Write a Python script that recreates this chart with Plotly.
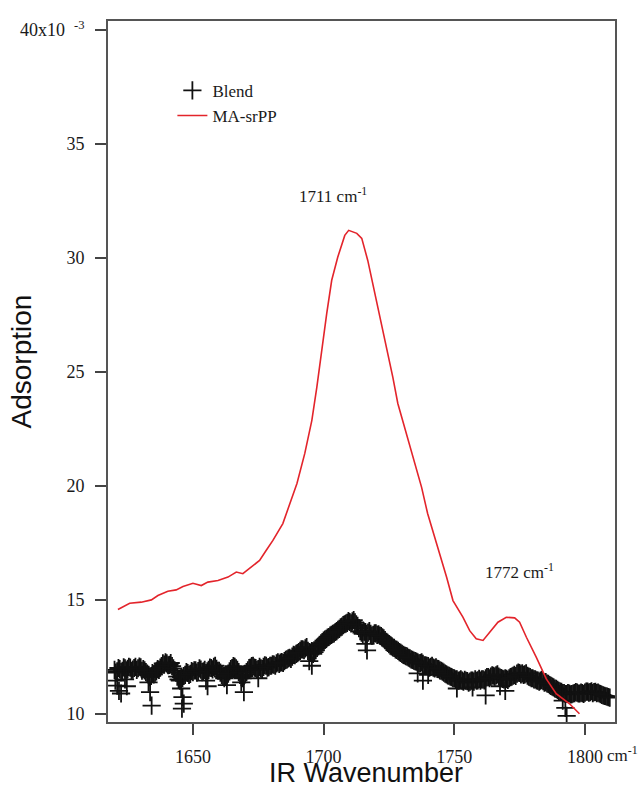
import plotly.graph_objects as go

# ---------------- data ----------------
# MA-srPP spectrum (wavenumber, absorbance x 1e-3)
srpp_x = [1621.3, 1625.8, 1630.2, 1634.1, 1636.6, 1640.4, 1643.6, 1646.2, 1650.0, 1653.2,
          1655.7, 1659.6, 1663.4, 1666.6, 1669.1, 1673.0, 1675.5, 1678.0, 1680.6, 1684.4,
          1689.8, 1692.8, 1695.5, 1697.4, 1699.3, 1701.2, 1703.1, 1705.4, 1708.1, 1709.6,
          1712.7, 1714.6, 1716.9, 1719.6, 1722.2, 1724.2, 1726.5, 1728.4, 1731.0, 1734.1,
          1737.5, 1739.8, 1743.3, 1747.1, 1749.5, 1753.3, 1755.9, 1758.4, 1761.0, 1763.5,
          1766.7, 1769.9, 1773.1, 1775.0, 1777.6, 1781.4, 1785.2, 1789.0, 1794.1, 1797.9]
srpp_y = [14.57, 14.84, 14.89, 14.99, 15.18, 15.37, 15.43, 15.58, 15.72, 15.62,
          15.77, 15.84, 15.99, 16.21, 16.14, 16.50, 16.72, 17.16, 17.60, 18.34,
          20.10, 21.42, 22.87, 24.32, 26.07, 27.57, 29.02, 30.03, 30.99, 31.21,
          31.08, 30.86, 29.89, 28.45, 27.13, 25.94, 24.76, 23.61, 22.56, 21.24,
          19.93, 18.78, 17.47, 15.97, 14.96, 14.23, 13.64, 13.28, 13.21, 13.57,
          14.01, 14.23, 14.20, 14.01, 13.35, 12.47, 11.52, 10.87, 10.43, 9.99]

# Blend spectrum, readings on whole wavenumbers (1620 ... 1809)
blend_x = [1620, 1621, 1622, 1623, 1624, 1625, 1626, 1627, 1628, 1629,
           1630, 1631, 1632, 1633, 1634, 1635, 1636, 1637, 1638, 1639,
           1640, 1641, 1642, 1643, 1644, 1645, 1646, 1647, 1648, 1649,
           1650, 1651, 1652, 1653, 1654, 1655, 1656, 1657, 1658, 1659,
           1660, 1661, 1662, 1663, 1664, 1665, 1666, 1667, 1668, 1669,
           1670, 1671, 1672, 1673, 1674, 1675, 1676, 1677, 1678, 1679,
           1680, 1681, 1682, 1683, 1684, 1685, 1686, 1687, 1688, 1689,
           1690, 1691, 1692, 1693, 1694, 1695, 1696, 1697, 1698, 1699,
           1700, 1701, 1702, 1703, 1704, 1705, 1706, 1707, 1708, 1709,
           1710, 1711, 1712, 1713, 1714, 1715, 1716, 1717, 1718, 1719,
           1720, 1721, 1722, 1723, 1724, 1725, 1726, 1727, 1728, 1729,
           1730, 1731, 1732, 1733, 1734, 1735, 1736, 1737, 1738, 1739,
           1740, 1741, 1742, 1743, 1744, 1745, 1746, 1747, 1748, 1749,
           1750, 1751, 1752, 1753, 1754, 1755, 1756, 1757, 1758, 1759,
           1760, 1761, 1762, 1763, 1764, 1765, 1766, 1767, 1768, 1769,
           1770, 1771, 1772, 1773, 1774, 1775, 1776, 1777, 1778, 1779,
           1780, 1781, 1782, 1783, 1784, 1785, 1786, 1787, 1788, 1789,
           1790, 1791, 1792, 1793, 1794, 1795, 1796, 1797, 1798, 1799,
           1800, 1801, 1802, 1803, 1804, 1805, 1806, 1807, 1808, 1809]
blend_y = [11.92, 11.85, 11.95, 11.88, 11.98, 11.96, 12.02, 11.93, 12.05, 11.99,
           12.03, 11.95, 11.82, 11.70, 11.65, 11.72, 11.85, 11.92, 12.08, 12.15,
           12.20, 12.14, 12.08, 11.90, 11.62, 11.48, 11.55, 11.70, 11.78, 11.74,
           11.82, 11.90, 11.86, 11.93, 11.85, 11.78, 11.92, 12.00, 12.05, 11.96,
           11.88, 11.70, 11.55, 11.62, 11.85, 12.00, 12.05, 11.92, 11.70, 11.55,
           11.72, 11.90, 12.02, 12.10, 12.00, 11.95, 11.98, 12.05, 12.10, 12.04,
           12.10, 12.15, 12.20, 12.18, 12.26, 12.30, 12.38, 12.45, 12.50, 12.56,
           12.65, 12.75, 12.82, 12.86, 12.75, 12.68, 12.62, 12.78, 12.95, 13.08,
           13.20, 13.28, 13.36, 13.45, 13.52, 13.62, 13.72, 13.82, 13.92, 13.98,
           14.02, 14.05, 14.00, 13.85, 13.62, 13.50, 13.58, 13.55, 13.50, 13.45,
           13.52, 13.48, 13.40, 13.30, 13.15, 13.05, 12.95, 12.88, 12.80, 12.70,
           12.62, 12.55, 12.50, 12.42, 12.36, 12.30, 12.25, 12.22, 12.18, 12.12,
           12.08, 12.05, 12.02, 12.03, 11.95, 11.88, 11.80, 11.72, 11.66, 11.60,
           11.55, 11.50, 11.46, 11.45, 11.48, 11.42, 11.40, 11.45, 11.50, 11.46,
           11.45, 11.50, 11.55, 11.60, 11.62, 11.66, 11.68, 11.62, 11.56, 11.50,
           11.52, 11.55, 11.62, 11.70, 11.75, 11.78, 11.76, 11.72, 11.66, 11.60,
           11.55, 11.50, 11.45, 11.45, 11.42, 11.38, 11.30, 11.22, 11.15, 11.08,
           11.00, 10.95, 10.90, 10.86, 10.88, 10.85, 10.90, 10.92, 10.88, 10.90,
           10.92, 10.96, 10.94, 10.90, 10.95, 10.92, 10.85, 10.80, 10.76, 10.72]

# Blend spectrum, readings on half wavenumbers (1620.5 ... 1809.5)
blend_half_x = [1620.5, 1621.5, 1622.5, 1623.5, 1624.5, 1625.5, 1626.5, 1627.5, 1628.5, 1629.5,
                1630.5, 1631.5, 1632.5, 1633.5, 1634.5, 1635.5, 1636.5, 1637.5, 1638.5, 1639.5,
                1640.5, 1641.5, 1642.5, 1643.5, 1644.5, 1645.5, 1646.5, 1647.5, 1648.5, 1649.5,
                1650.5, 1651.5, 1652.5, 1653.5, 1654.5, 1655.5, 1656.5, 1657.5, 1658.5, 1659.5,
                1660.5, 1661.5, 1662.5, 1663.5, 1664.5, 1665.5, 1666.5, 1667.5, 1668.5, 1669.5,
                1670.5, 1671.5, 1672.5, 1673.5, 1674.5, 1675.5, 1676.5, 1677.5, 1678.5, 1679.5,
                1680.5, 1681.5, 1682.5, 1683.5, 1684.5, 1685.5, 1686.5, 1687.5, 1688.5, 1689.5,
                1690.5, 1691.5, 1692.5, 1693.5, 1694.5, 1695.5, 1696.5, 1697.5, 1698.5, 1699.5,
                1700.5, 1701.5, 1702.5, 1703.5, 1704.5, 1705.5, 1706.5, 1707.5, 1708.5, 1709.5,
                1710.5, 1711.5, 1712.5, 1713.5, 1714.5, 1715.5, 1716.5, 1717.5, 1718.5, 1719.5,
                1720.5, 1721.5, 1722.5, 1723.5, 1724.5, 1725.5, 1726.5, 1727.5, 1728.5, 1729.5,
                1730.5, 1731.5, 1732.5, 1733.5, 1734.5, 1735.5, 1736.5, 1737.5, 1738.5, 1739.5,
                1740.5, 1741.5, 1742.5, 1743.5, 1744.5, 1745.5, 1746.5, 1747.5, 1748.5, 1749.5,
                1750.5, 1751.5, 1752.5, 1753.5, 1754.5, 1755.5, 1756.5, 1757.5, 1758.5, 1759.5,
                1760.5, 1761.5, 1762.5, 1763.5, 1764.5, 1765.5, 1766.5, 1767.5, 1768.5, 1769.5,
                1770.5, 1771.5, 1772.5, 1773.5, 1774.5, 1775.5, 1776.5, 1777.5, 1778.5, 1779.5,
                1780.5, 1781.5, 1782.5, 1783.5, 1784.5, 1785.5, 1786.5, 1787.5, 1788.5, 1789.5,
                1790.5, 1791.5, 1792.5, 1793.5, 1794.5, 1795.5, 1796.5, 1797.5, 1798.5, 1799.5,
                1800.5, 1801.5, 1802.5, 1803.5, 1804.5, 1805.5, 1806.5, 1807.5, 1808.5, 1809.5]
blend_half_y = [11.80, 12.00, 11.82, 12.03, 11.90, 12.05, 11.88, 12.00, 11.92, 12.06,
                11.88, 11.90, 11.75, 11.60, 11.78, 11.80, 11.95, 12.02, 12.20, 12.25,
                12.12, 12.22, 11.98, 11.80, 11.50, 11.60, 11.65, 11.82, 11.70, 11.86,
                11.90, 11.80, 11.98, 11.82, 11.92, 11.85, 12.02, 11.94, 12.10, 11.88,
                11.80, 11.62, 11.65, 11.75, 11.95, 12.08, 11.98, 11.82, 11.60, 11.65,
                11.82, 12.00, 12.08, 12.02, 11.92, 12.05, 11.95, 12.12, 12.02, 12.10,
                12.16, 12.10, 12.25, 12.24, 12.22, 12.36, 12.42, 12.40, 12.58, 12.62,
                12.70, 12.82, 12.78, 12.92, 12.70, 12.74, 12.70, 12.88, 13.02, 13.14,
                13.25, 13.34, 13.42, 13.50, 13.58, 13.68, 13.78, 13.88, 13.95, 14.06,
                13.96, 14.10, 13.92, 13.75, 13.55, 13.60, 13.50, 13.62, 13.42, 13.52,
                13.45, 13.42, 13.35, 13.22, 13.10, 12.98, 12.90, 12.82, 12.75, 12.66,
                12.58, 12.52, 12.45, 12.38, 12.32, 12.28, 12.20, 12.25, 12.12, 12.10,
                12.02, 12.10, 11.98, 11.96, 11.90, 11.84, 11.75, 11.68, 11.62, 11.56,
                11.50, 11.44, 11.50, 11.40, 11.44, 11.36, 11.45, 11.40, 11.44, 11.52,
                11.50, 11.46, 11.60, 11.55, 11.68, 11.62, 11.72, 11.58, 11.52, 11.55,
                11.48, 11.60, 11.66, 11.65, 11.80, 11.72, 11.70, 11.76, 11.62, 11.55,
                11.50, 11.46, 11.40, 11.48, 11.36, 11.32, 11.25, 11.18, 11.10, 11.04,
                10.96, 10.90, 10.86, 10.90, 10.84, 10.88, 10.94, 10.88, 10.92, 10.86,
                10.96, 10.92, 10.98, 10.94, 10.90, 10.88, 10.82, 10.78, 10.74, 10.70]

# Blend spectrum, scattered low readings
blend_low_x = [1620.3, 1621.0, 1621.7, 1622.5, 1624.0, 1624.7, 1633.0, 1633.6, 1634.2,
               1645.0, 1645.5, 1646.0, 1646.5, 1645.8, 1655.0, 1655.6, 1663.0, 1668.5,
               1669.5, 1675.0, 1694.5, 1695.5, 1716.0, 1716.6, 1736.0, 1738.0, 1740.0,
               1751.0, 1757.0, 1762.0, 1767.5, 1769.5, 1791.5, 1792.5, 1793.0]
blend_low_y = [11.45, 11.23, 11.00, 10.88, 11.50, 11.20, 11.37, 10.94, 10.35,
               11.45, 11.10, 10.72, 10.44, 10.22, 11.45, 11.20, 11.25, 11.37,
               10.94, 11.55, 12.30, 12.10, 13.06, 12.77, 11.76, 11.45, 11.70,
               11.10, 11.15, 10.80, 11.20, 11.00, 10.57, 10.25, 9.90]

x_tickvals = [1650, 1700, 1750, 1800]
x_ticktext = ["1650", "1700", "1750", "1800"]
y_tickvals = [10, 15, 20, 25, 30, 35, 40]
y_ticktext = ["10", "15", "20", "25", "30", "35", "40x10&nbsp;&nbsp;<sup>-3</sup>"]

peak_labels = [
    (1703.5, 32.75, "1711 cm<sup>-1</sup>"),
    (1775.0, 16.28, "1772 cm<sup>-1</sup>"),
]

# ---------------- figure ----------------
serif = "Liberation Serif, Times New Roman, serif"
sans = "Liberation Sans, Arial, sans-serif"
ink = "#1a1a1a"

fig = go.Figure()
fig.add_trace(go.Scatter(
    x=blend_x + blend_half_x + blend_low_x,
    y=blend_y + blend_half_y + blend_low_y,
    mode="markers", name="Blend",
    marker=dict(symbol="cross-thin", size=13, color="#111111",
                line=dict(width=1.8, color="#111111")),
))
fig.add_trace(go.Scatter(
    x=srpp_x, y=srpp_y, mode="lines", name="MA-srPP",
    line=dict(color="#e3242b", width=1.6),
))

for x, y, t in peak_labels:
    fig.add_annotation(x=x, y=y, xref="x", yref="y", text=t, showarrow=False,
                       font=dict(family=serif, size=17, color=ink),
                       xanchor="center", yanchor="middle")

# unit after the last x tick label
fig.add_annotation(x=1807.6, y=-0.046, xref="x", yref="paper", text="cm<sup>-1</sup>",
                   showarrow=False, xanchor="left", yanchor="middle",
                   font=dict(family=serif, size=17, color=ink))

# axis titles
fig.add_annotation(x=0.509, y=-0.0955, xref="paper", yref="paper", text="IR Wavenumber",
                   showarrow=False, xanchor="center", yanchor="bottom", borderpad=0,
                   font=dict(family=sans, size=27, color="#111111"))
fig.add_annotation(x=-0.17, y=0.514, xref="paper", yref="paper", text="Adsorption",
                   textangle=-90, showarrow=False, xanchor="center", yanchor="middle",
                   font=dict(family=sans, size=28, color="#111111"))

axis_common = dict(showline=True, linecolor="#555555", linewidth=1.6, mirror=True,
                   ticks="outside", ticklen=11, tickwidth=1.6, tickcolor="#444444",
                   showgrid=False, zeroline=False, automargin=False,
                   tickfont=dict(family=serif, size=18, color=ink))

fig.update_layout(
    width=638, height=789,
    margin=dict(l=108, r=23, t=21, b=67),
    paper_bgcolor="white", plot_bgcolor="white",
    showlegend=True,
    legend=dict(x=0.127, y=0.926, xanchor="left", yanchor="top",
                bgcolor="rgba(0,0,0,0)", font=dict(family=serif, size=17, color=ink),
                tracegroupgap=0),
    xaxis=dict(range=[1617.5, 1811.5], tickvals=x_tickvals, ticktext=x_ticktext,
               ticklabelstandoff=7, **axis_common),
    yaxis=dict(range=[9.63, 40.4], tickvals=y_tickvals, ticktext=y_ticktext,
               ticklabelstandoff=7, **axis_common),
)

fig.write_html("out.html")
